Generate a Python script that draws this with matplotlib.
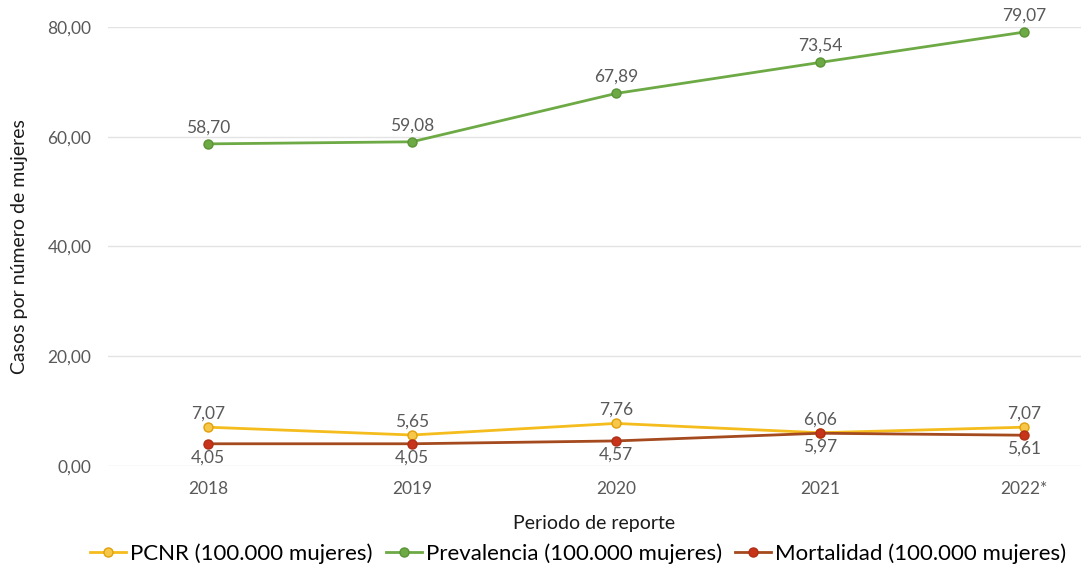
import matplotlib
matplotlib.use("Agg")
from matplotlib import pyplot as plt

plt.rcParams['font.family'] = ['Lato', 'DejaVu Sans']

years = ['2018', '2019', '2020', '2021', '2022*']
pcnr = [7.07, 5.65, 7.76, 6.06, 7.07]
prevalencia = [58.70, 59.08, 67.89, 73.54, 79.07]
mortalidad = [4.05, 4.05, 4.57, 5.97, 5.61]


def fmt(v):
    return ('%.2f' % v).replace('.', ',')


fig = plt.figure(figsize=(10.81, 5.65), dpi=100)
ax = fig.add_axes([108 / 1081, 1 - 466 / 565, 1 - 108 / 1081, (466 - 27) / 565])

x = list(range(len(years)))

ax.plot(x, pcnr, color='#F4BC1C', lw=2, marker='o', ms=6.5,
        mfc='#F7C74A', mec='#E0A10A', mew=1, label='PCNR (100.000 mujeres)', zorder=3)
ax.plot(x, prevalencia, color='#6DAA45', lw=2, marker='o', ms=6.5,
        mfc='#6DAA45', mec='#5A9436', mew=1, label='Prevalencia (100.000 mujeres)', zorder=3)
ax.plot(x, mortalidad, color='#A44A1E', lw=2, marker='o', ms=6.5,
        mfc='#C8341A', mec='#B02E16', mew=1, label='Mortalidad (100.000 mujeres)', zorder=4)

lab_col = '#595959'
for i in x:
    ax.annotate(fmt(prevalencia[i]), (i, prevalencia[i]), xytext=(0, 6),
                textcoords='offset points', ha='center', va='bottom',
                fontsize=12.5, color=lab_col)
    ax.annotate(fmt(pcnr[i]), (i, pcnr[i]), xytext=(0, 4),
                textcoords='offset points', ha='center', va='bottom',
                fontsize=12.5, color=lab_col)
    ax.annotate(fmt(mortalidad[i]), (i, mortalidad[i]), xytext=(0, -4),
                textcoords='offset points', ha='center', va='top',
                fontsize=12.5, color=lab_col)

ax.set_ylim(0, 80)
ax.set_xlim(-100 / 204, (1081 - 208) / 204)
ax.set_yticks([0, 20, 40, 60, 80])
ax.set_yticklabels([fmt(v) for v in [0, 20, 40, 60, 80]])
ax.set_xticks(x)
ax.set_xticklabels(years)
ax.tick_params(axis='both', length=0, labelsize=12.5, labelcolor=lab_col)
ax.tick_params(axis='x', pad=11)
ax.tick_params(axis='y', pad=12)
ax.grid(True, axis='y', color='#E3E3E3', lw=1)
ax.set_axisbelow(True)
for s in ax.spines.values():
    s.set_visible(False)

ax.set_xlabel('Periodo de reporte', fontsize=14, color='#1a1a1a', labelpad=13)
ax.set_ylabel('Casos por número de mujeres', fontsize=14, color='#1a1a1a', labelpad=14)

fig.legend(loc='lower center', bbox_to_anchor=(0.535, -0.034), ncol=3, frameon=False,
           fontsize=16, handlelength=1.6, handletextpad=0.2, columnspacing=0.6)

fig.savefig('out.png', dpi=100, facecolor='white')
